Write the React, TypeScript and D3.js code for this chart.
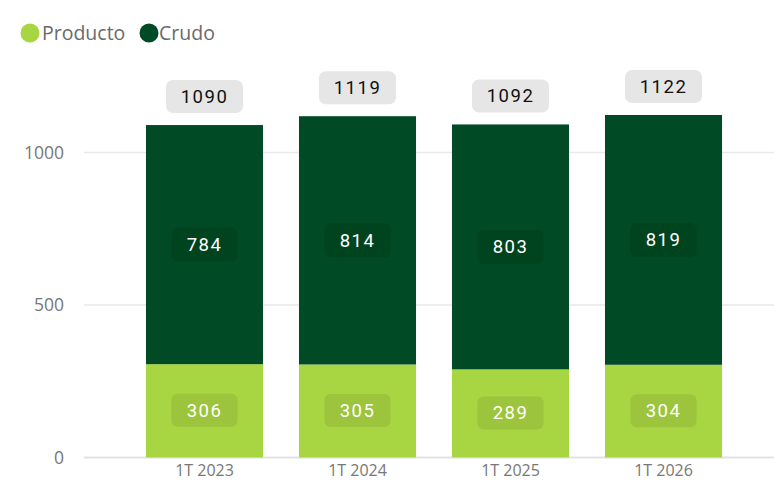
import React from "react";
import * as d3 from "d3";

const categories = ["1T 2023", "1T 2024", "1T 2025", "1T 2026"];
const producto = [306, 305, 289, 304];
const crudo = [784, 814, 803, 819];
const totals = [1090, 1119, 1092, 1122];
const yTicks = [0, 500, 1000];

const W = 774;
const H = 482;
const COL_PROD = "#a8d542";
const COL_CRUDO = "#004b25";
const BOX_PROD = "#9cc43c";
const BOX_CRUDO = "#00431f";

export default function App() {
  const x = d3
    .scaleBand<string>()
    .domain(categories)
    .range([128, 740])
    .paddingInner(0.235)
    .paddingOuter(0.1175);
  const y = d3.scaleLinear().domain([0, 1000]).range([457.5, 152.5]);
  const bw = x.bandwidth();
  const numFont = "Roboto, 'DejaVu Sans', sans-serif";
  const txtFont = "'Open Sans', 'Noto Sans', sans-serif";

  return (
    <svg
      width={W}
      height={H}
      style={{ position: "absolute", left: 0, top: 0, background: "#fff" }}
    >
      {/* legend */}
      <circle cx={30} cy={33} r={9.5} fill={COL_PROD} />
      <text x={42} y={40} fontFamily={txtFont} fontSize={19.5} fill="#6a6a6a">
        Producto
      </text>
      <circle cx={149} cy={33} r={9.5} fill={COL_CRUDO} />
      <text x={159} y={40} fontFamily={txtFont} fontSize={19.5} fill="#6a6a6a">
        Crudo
      </text>

      {/* grid */}
      {yTicks.map((t) => (
        <g key={t}>
          <line
            x1={84}
            x2={W}
            y1={y(t)}
            y2={y(t)}
            stroke={t === 0 ? "#e2e2e2" : "#e9e9e9"}
            strokeWidth={t === 0 ? 2 : 1.5}
          />
          <text
            x={64}
            y={y(t) + 6}
            textAnchor="end"
            fontFamily={txtFont}
            fontSize={17.5}
            fill="#777"
          >
            {t}
          </text>
        </g>
      ))}

      {categories.map((c, i) => {
        const x0 = x(c)!;
        const cx = x0 + bw / 2;
        const p = producto[i];
        const cr = crudo[i];
        const tot = totals[i];
        const yP = y(p);
        const yT = y(p + cr);
        const midP = (y(0) + yP) / 2;
        const midC = (yP + yT) / 2;
        return (
          <g key={c}>
            <rect x={x0} y={yP} width={bw} height={y(0) - yP} fill={COL_PROD} />
            <rect x={x0} y={yT} width={bw} height={yP - yT} fill={COL_CRUDO} />

            <rect x={cx - 33} y={midC - 17} width={66} height={34} rx={6} fill={BOX_CRUDO} />
            <text
              x={cx}
              y={midC + 6.5}
              textAnchor="middle"
              fontFamily={numFont}
              fontSize={18.5}
              letterSpacing={1.5}
              fill="#fff"
            >
              {cr}
            </text>

            <rect x={cx - 33} y={midP - 17} width={66} height={33} rx={6} fill={BOX_PROD} />
            <text
              x={cx}
              y={midP + 6}
              textAnchor="middle"
              fontFamily={numFont}
              fontSize={18.5}
              letterSpacing={1.5}
              fill="#fff"
            >
              {p}
            </text>

            <rect x={cx - 38.5} y={yT - 45} width={77} height={33} rx={7} fill="#e6e6e6" />
            <text
              x={cx}
              y={yT - 22}
              textAnchor="middle"
              fontFamily={numFont}
              fontSize={18.5}
              letterSpacing={1.5}
              fill="#111"
            >
              {tot}
            </text>

            <text
              x={cx}
              y={476}
              textAnchor="middle"
              fontFamily={txtFont}
              fontSize={16}
              fill="#777"
            >
              {c}
            </text>
          </g>
        );
      })}
    </svg>
  );
}
